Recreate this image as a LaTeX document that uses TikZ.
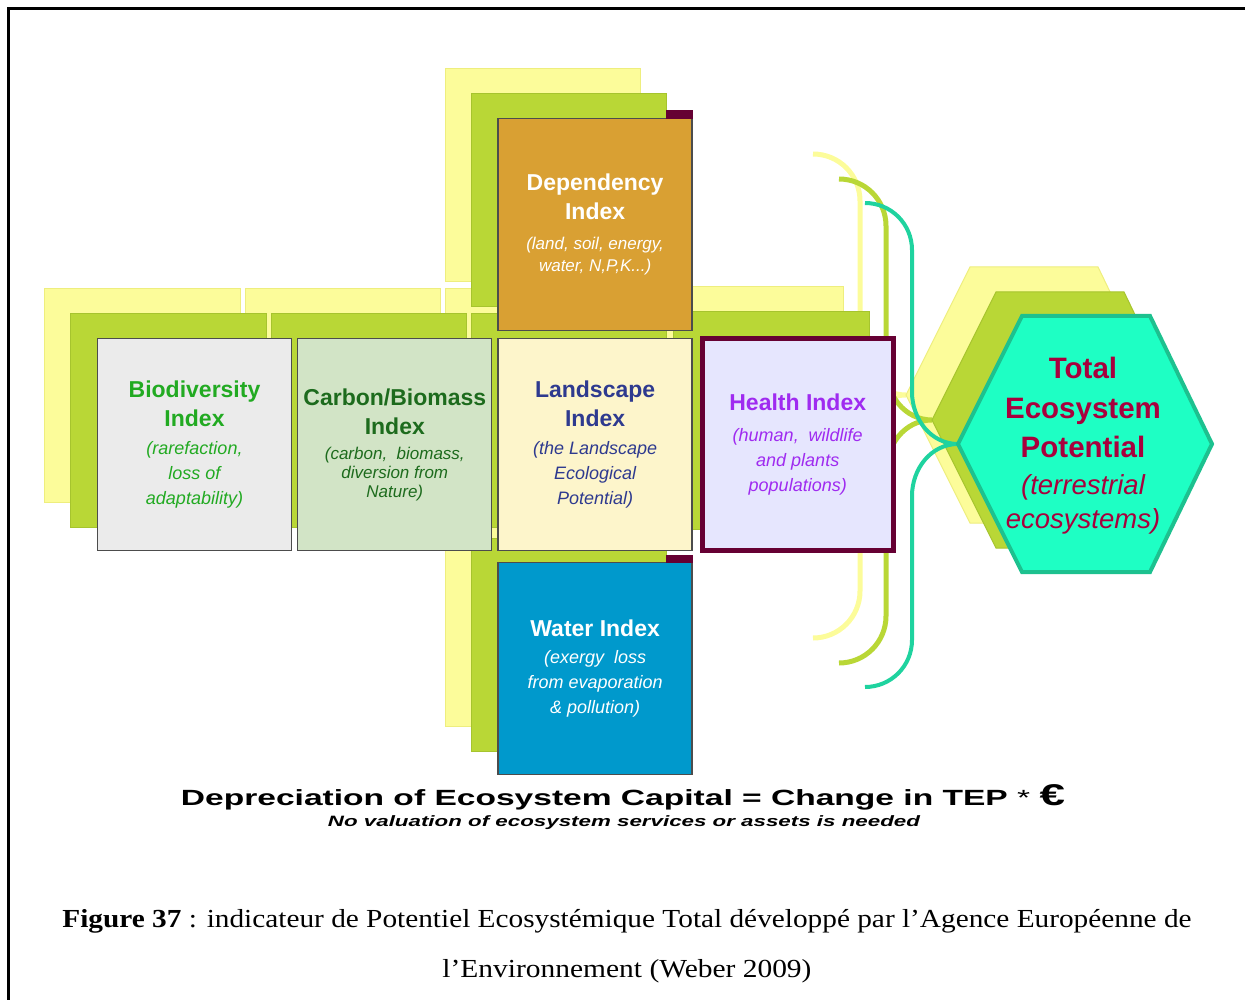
\documentclass[tikz,border=0pt]{standalone}
\usepackage{fontspec}
\setmainfont{Liberation Sans}
\newfontfamily\capfont{Liberation Serif}
\usepackage{graphicx}
\usetikzlibrary{positioning,backgrounds,calc}

\definecolor{ylw}{HTML}{FCFC9A}
\definecolor{ylwline}{HTML}{EEEE7E}
\definecolor{grn}{HTML}{B9D736}
\definecolor{grnline}{HTML}{A6C42E}
\definecolor{depfill}{HTML}{D9A033}
\definecolor{biofill}{HTML}{EBEBEB}
\definecolor{carbfill}{HTML}{D2E4C6}
\definecolor{landfill}{HTML}{FDF5CB}
\definecolor{healthfill}{HTML}{E6E6FE}
\definecolor{waterfill}{HTML}{0099CC}
\definecolor{maroon}{HTML}{660033}
\definecolor{tepfill}{HTML}{1EFFC4}
\definecolor{tepline}{HTML}{1DC18F}
\definecolor{tepbrace}{HTML}{1FD39F}
\definecolor{biotext}{HTML}{22AA22}
\definecolor{carbtext}{HTML}{1D6B1D}
\definecolor{landtext}{HTML}{2E3A8F}
\definecolor{healthtext}{HTML}{9F2BF0}
\definecolor{teptext}{HTML}{A8003D}

\newcommand\sbt{\fontsize{18}{25}\selectfont\mdseries\itshape}
\newcommand\ssbt{\fontsize{17}{25}\selectfont\mdseries\itshape}
\newcommand\tsbt{\fontsize{27.5}{34}\selectfont\mdseries\itshape}

\begin{document}
\begin{tikzpicture}[
  x=1pt, y=-1pt,
  box/.style={draw=black!70, line width=1.3, minimum width=194, minimum height=212,
    inner sep=0, align=center, font=\fontsize{23}{25}\selectfont\bfseries},
  ylay/.style={fill=ylw, draw=ylwline, line width=1},
  glay/.style={fill=grn, draw=grnline, line width=1},
  brace/.style={line width=5},
  tep/.style={align=center, text=teptext, font=\fontsize{29.5}{34}\selectfont\bfseries},
]
\useasboundingbox (0,0) rectangle (1245,1000);

% frame
\draw[line width=3] (8,1000) -- (8,9) -- (1245,9);

% the cross of indices
\node[box, fill=biofill, text=biotext] (bio) at (194.5,444.5)
  {Biodiversity\\[4pt]Index\\[3pt]\sbt (rarefaction,\\\sbt loss of\\\sbt adaptability)};
\node[box, fill=carbfill, text=carbtext, right=5pt of bio] (carb)
  {Carbon/Biomass\\[4pt]Index\\[0pt]\ssbt (carbon,\ \ biomass,\\[-6pt]\ssbt diversion from\\[-6pt]\ssbt Nature)};
\node[box, fill=landfill, text=landtext, right=5pt of carb] (land)
  {Landscape\\[4pt]Index\\[3pt]\sbt (the Landscape\\\sbt Ecological\\\sbt Potential)};
\node[box, draw=maroon, line width=5, minimum width=191, fill=healthfill, text=healthtext,
  right=7pt of land] (health)
  {Health Index\\[6pt]\sbt (human,\ \ wildlife\\\sbt and plants\\\sbt populations)};
\node[box, fill=depfill, text=white, above=7pt of land] (dep)
  {Dependency\\[4pt]Index\\[5pt]\ssbt (land, soil, energy,\\[-3pt]\ssbt water, N,P,K...)};
\node[box, fill=waterfill, text=white, below=11pt of land] (water)
  {Water Index\\[2pt]\sbt (exergy\ \ loss\\\sbt from evaporation\\\sbt \& pollution)};

% total ecosystem potential
\node[tep] (tep) at (1083,446)
  {Total\\[6pt]Ecosystem\\[5pt]Potential\\[3pt]\tsbt (terrestrial\\\tsbt ecosystems)};

\fill[maroon] (666,110) rectangle (693,119);
\fill[maroon] (666,555) rectangle (693,563);

\begin{scope}[on background layer]
  \foreach \dx/\dy/\lay/\bcol in {-52/-49/ylay/ylw, -26/-24/glay/grn} {
    \foreach \b in {dep,bio,carb,land,health,water}
      \path[\lay] ($(\b.north west)+(\dx,\dy)$) rectangle ($(\b.south east)+(\dx,\dy)$);
    \draw[brace, draw=\bcol, shift={(\dx,\dy)}] (865,203) to[out=0,in=90] (912,250)
      -- (912,392) to[out=-90,in=180] (958,444) to[out=180,in=90] (912,496)
      -- (912,640) to[out=-90,in=0] (865,687);
    \path[\lay, shift={(\dx,\dy)}] (958,444) -- (1022,316) -- (1150,316) -- (1212,444)
      -- (1150,572) -- (1022,572) -- cycle;
  }
  \draw[brace, line width=4, draw=tepbrace] (865,203) to[out=0,in=90] (912,250)
    -- (912,392) to[out=-90,in=180] (958,444) to[out=180,in=90] (912,496)
    -- (912,640) to[out=-90,in=0] (865,687);
  \path[fill=tepfill, draw=tepline, line width=4] (958,444) -- (1022,316) -- (1150,316)
    -- (1212,444) -- (1150,572) -- (1022,572) -- cycle;
\end{scope}

% formula and caption
\node (formula) at (623,797) {\resizebox{884pt}{\height}{\fontsize{22}{22}\selectfont\bfseries
  Depreciation of Ecosystem Capital = Change in TEP {\mdseries *} {\fontsize{30}{30}\selectfont €}}};
\node (novalue) at (624,823) {\resizebox{592pt}{\height}{\fontsize{15}{15}\selectfont\bfseries\itshape
  No valuation of ecosystem services or assets is needed}};
\node (cap1) at (627,921) {\resizebox{1129pt}{\height}{\capfont\fontsize{26}{30}\selectfont
  \textbf{Figure 37} : indicateur de Potentiel Ecosystémique Total développé par l’Agence Européenne de}};
\node (cap2) at (627,971) {\resizebox{369pt}{\height}{\capfont\fontsize{26}{30}\selectfont
  l’Environnement (Weber 2009)}};
\end{tikzpicture}
\end{document}
